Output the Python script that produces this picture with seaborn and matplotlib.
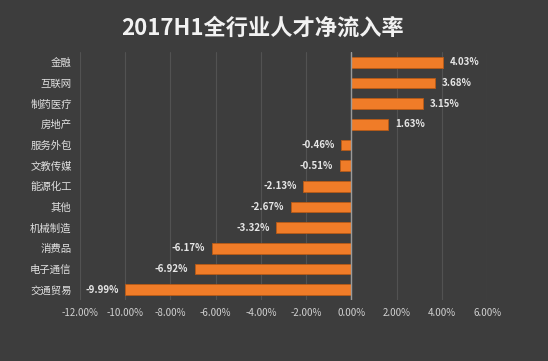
import pandas as pd
import seaborn as sns
import matplotlib.pyplot as plt
from matplotlib.ticker import FuncFormatter

categories = ["金融", "互联网", "制药医疗", "房地产", "服务外包", "文教传媒",
              "能源化工", "其他", "机械制造", "消费品", "电子通信", "交通贸易"]
rates = [4.03, 3.68, 3.15, 1.63, -0.46, -0.51, -2.13, -2.67, -3.32, -6.17, -6.92, -9.99]
x_ticks = [-12, -10, -8, -6, -4, -2, 0, 2, 4, 6]

df = pd.DataFrame({"industry": categories, "rate": rates})

bg = "#3d3d3d"
sns.set_theme(style="dark")
plt.rcParams["font.family"] = ["Noto Sans CJK SC", "DejaVu Sans"]

fig = plt.figure(figsize=(5.48, 3.61), dpi=100, facecolor=bg)
ax = fig.add_axes([0.146, 0.169, 0.743, 0.687])
ax.set_facecolor(bg)

sns.barplot(data=df, x="rate", y="industry", orient="h", color="#f07c28",
            saturation=1, width=0.52, edgecolor="#b85a16", linewidth=0.6, ax=ax)

for i, v in enumerate(rates):
    if v >= 0:
        ax.text(v + 0.3, i, f"{v:.2f}%", va="center", ha="left",
                color="#e6e6e6", fontsize=7, fontweight="bold")
    else:
        ax.text(v - 0.3, i, f"{v:.2f}%", va="center", ha="right",
                color="#e6e6e6", fontsize=7, fontweight="bold")

ax.set_xlim(-12, 6)
ax.set_xticks(x_ticks)
ax.xaxis.set_major_formatter(FuncFormatter(lambda x, p: f"{x:.2f}%"))
ax.grid(axis="x", color="#525252", linewidth=0.8)
ax.grid(axis="y", visible=False)
ax.set_axisbelow(True)
ax.axvline(0, color="#9a9a9a", linewidth=1)
for s in ax.spines.values():
    s.set_visible(False)

ax.tick_params(axis="x", colors="#d0d0d0", labelsize=7, length=0, pad=6)
ax.tick_params(axis="y", colors="#e0e0e0", labelsize=7.5, length=0, pad=6)
ax.set_xlabel("")
ax.set_ylabel("")

fig.text(0.48, 0.922, "2017H1全行业人才净流入率", ha="center", va="center",
         color="#f2f2f2", fontsize=16, fontweight="bold")

fig.savefig("out.png", dpi=100, facecolor=bg)
